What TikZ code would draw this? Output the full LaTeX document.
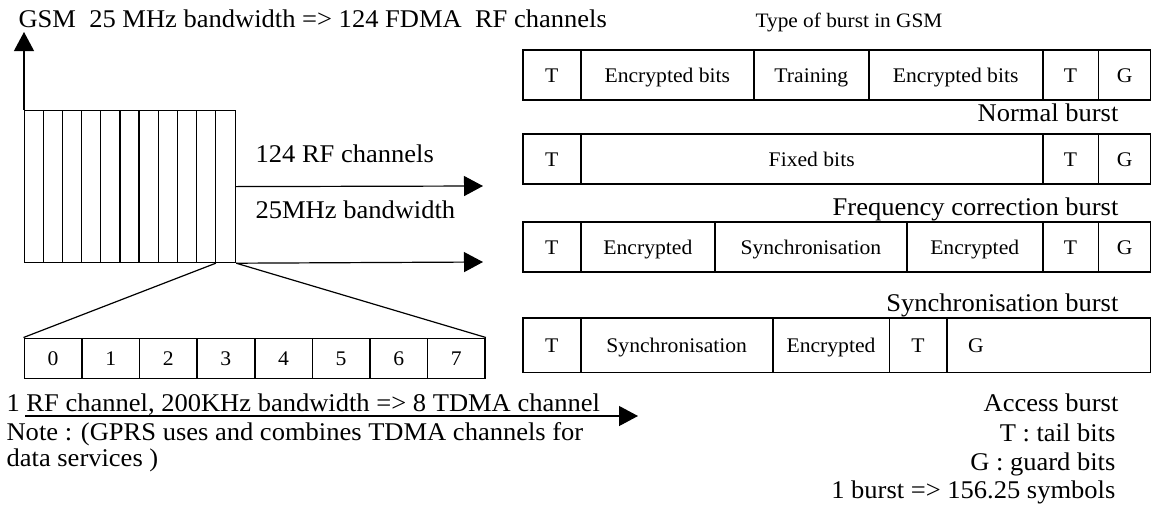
\documentclass[tikz,border=0pt]{standalone}
\usepackage{fontspec}
\setmainfont{Liberation Serif}[FakeStretch=1.04]
\usetikzlibrary{arrows.meta}

\begin{document}
\begin{tikzpicture}[x=1pt, y=-1pt, line width=1.2pt,
    bigtext/.style={font=\fontsize{25.5}{30}\selectfont, inner sep=0pt},
    smalltext/.style={font=\fontsize{20.5}{25}\selectfont, inner sep=0pt},
    cellbox/.style={draw, line width=1.6pt, inner sep=0pt, text height=14.6pt, text depth=0pt,
        font=\fontsize{20.8}{25}\selectfont},
    bigarrow/.style={-{Triangle[length=19pt, width=20pt]}}]
    \useasboundingbox (0,0) rectangle (1151,517);

    % FDMA band with its RF channels
    \node[draw, inner sep=0pt, minimum width=211pt, minimum height=152pt, anchor=north west] (band) at (24,110) {};
    \foreach \i in {1,...,10}
        \draw ([xshift=\i*19.18pt]band.north west) -- ([xshift=\i*19.18pt]band.south west);
    \coordinate (sel) at ([xshift=191.8pt]band.south west);

    % Axis and outgoing arrows
    \coordinate (top) at (24,32);
    \coordinate (rfA) at (483,186);
    \coordinate (rfB) at (483,262);
    \draw[bigarrow] (band.north west) -- (top);
    \draw[bigarrow] (band.east) -- (rfA);
    \draw[bigarrow] (band.south east) -- (rfB);

    % Labels
    \node[bigtext, anchor=base west] (title) at (18,27) {GSM\ \ 25 MHz bandwidth => 124 FDMA\ \ RF channels};
    \node[bigtext, anchor=base west] (rfcount) at (255,162.7) {124 RF channels};
    \node[bigtext, anchor=base west] (bw) at (255,218.3) {25MHz bandwidth};

    % TDMA channels of one RF channel
    \foreach \n in {0,...,7}
        \node[cellbox, minimum width=57.6pt, minimum height=40pt] (ch\n) at ({53.1+57.6*\n},358.3) {\n};
    \draw (sel) -- (ch0.north west);
    \draw (band.south east) -- (ch7.north east);

    \node[bigtext, anchor=base west] (tdmanote) at (6,411.7) {1 RF channel, 200KHz bandwidth => 8 TDMA channel};
    \coordinate (ulA) at (25,416);
    \coordinate (ulB) at (638,416);
    \draw[bigarrow] (ulA) -- (ulB);
    \node[bigtext, anchor=base west] (gprs) at (6,440) {Note : (GPRS uses and combines TDMA channels for};
    \node[bigtext, anchor=base west] (gprs2) at (6,466.7) {data services )};

    % Bursts
    \node[smalltext, anchor=base] (bursttitle) at (849,27.3) {Type of burst in GSM};

    \foreach \l/\r/\t [count=\k] in {522.7/580.7/T, 580.7/754/Encrypted bits, 754/868.7/Training,
            868.7/1042.7/Encrypted bits, 1042.7/1098.3/T, 1098.3/1151/G}
        \node[cellbox, minimum width={(\r-\l)*1pt}, minimum height=50pt] (nb\k) at ({(\l+\r)/2},75) {\t};
    \node[bigtext, anchor=base east] (nbl) at (1119,121.7) {Normal burst};

    \foreach \l/\r/\t [count=\k] in {522.7/580.7/T, 580.7/1042.7/Fixed bits, 1042.7/1098.3/T, 1098.3/1151/G}
        \node[cellbox, minimum width={(\r-\l)*1pt}, minimum height=50pt] (fb\k) at ({(\l+\r)/2},159) {\t};
    \node[bigtext, anchor=base east] (fbl) at (1119,215) {Frequency correction burst};

    \foreach \l/\r/\t [count=\k] in {522.7/580.7/T, 580.7/715/Encrypted, 715/906.7/Synchronisation,
            906.7/1042.7/Encrypted, 1042.7/1098.3/T, 1098.3/1151/G}
        \node[cellbox, minimum width={(\r-\l)*1pt}, minimum height=50pt] (sb\k) at ({(\l+\r)/2},247) {\t};
    \node[bigtext, anchor=base east] (sbl) at (1119,311.7) {Synchronisation burst};

    \foreach \l/\r/\t [count=\k] in {522.7/580.7/T, 580.7/772.7/Synchronisation, 772.7/889.3/Encrypted,
            889.3/946.7/T, 946.7/1151/{}}
        \node[cellbox, minimum width={(\r-\l)*1pt}, minimum height=54.6pt] (ab\k) at ({(\l+\r)/2},345) {\t};
    \node[cellbox, draw=none] (abg) at (976,345) {G};
    \node[bigtext, anchor=base east] (abl) at (1119,411.7) {Access burst};

    % Legend
    \node[bigtext, anchor=base east] (tleg) at (1116,441.7) {T : tail bits};
    \node[bigtext, anchor=base east] (gleg) at (1116,470) {G : guard bits};
    \node[bigtext, anchor=base east] (symleg) at (1116,498) {1 burst => 156.25 symbols};
\end{tikzpicture}
\end{document}
